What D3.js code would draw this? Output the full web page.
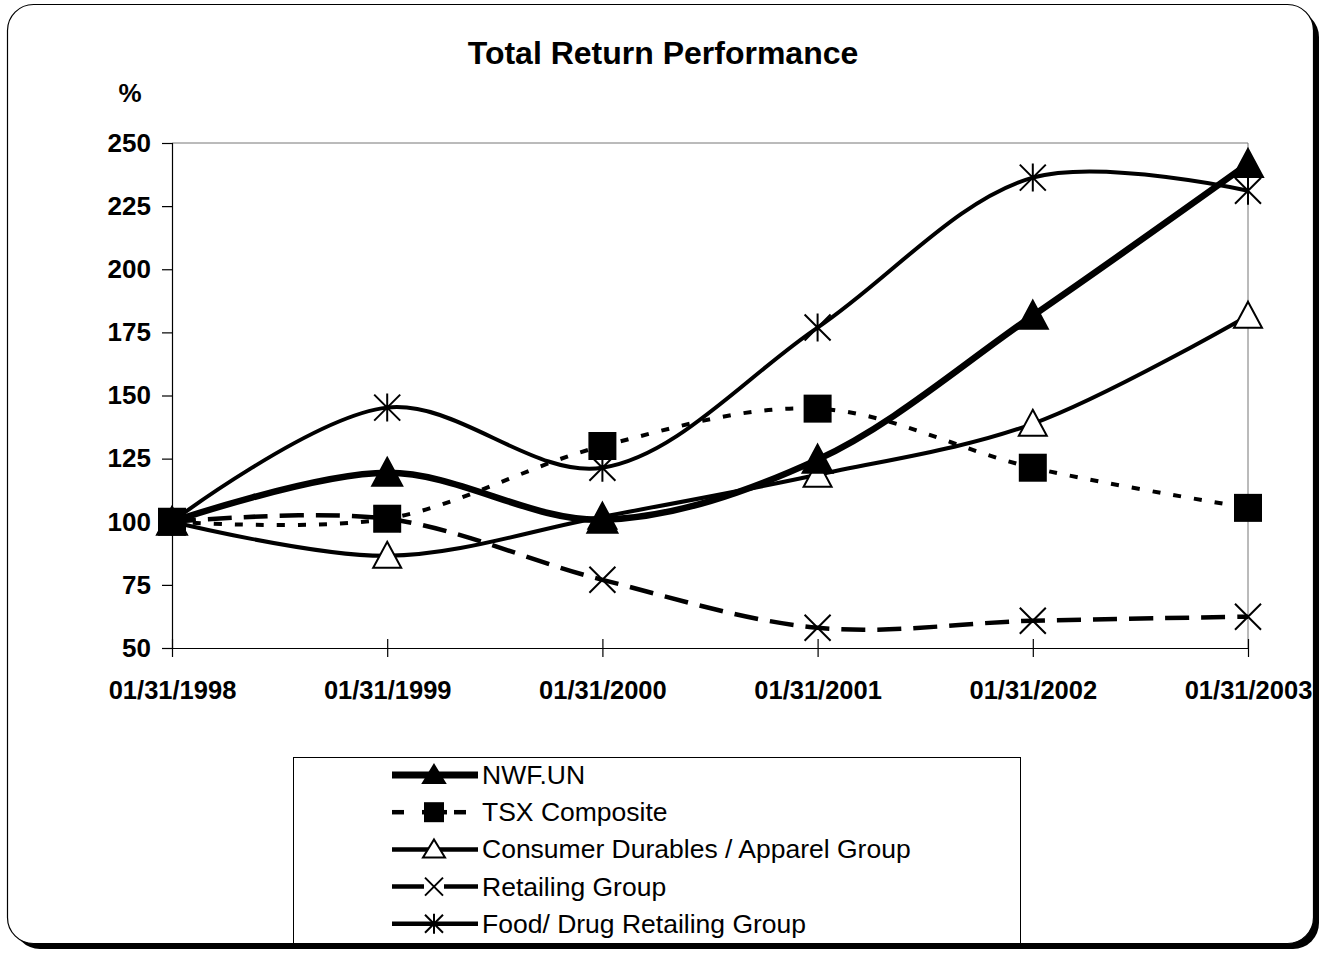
<!DOCTYPE html>
<html>
<head>
<meta charset="utf-8">
<script src="https://cdn.jsdelivr.net/npm/d3@7"></script>
<style>
  html, body { margin: 0; padding: 0; background: #fff; }
  svg { display: block; font-family: "Liberation Sans", Arial, sans-serif; }
</style>
</head>
<body>
<div id="chart"></div>
<script>
// data
const dates = ['01/31/1998', '01/31/1999', '01/31/2000', '01/31/2001', '01/31/2002', '01/31/2003'];
const yTicks = [50, 75, 100, 125, 150, 175, 200, 225, 250];
const seriesNames = ['NWF.UN', 'TSX Composite', 'Consumer Durables / Apparel Group', 'Retailing Group', 'Food/ Drug Retailing Group'];
const nwf      = [100, 119.4, 100.8, 124.6, 181.6, 241.7];
const tsx      = [100, 101.2, 130.0, 144.8, 121.4, 105.5];
const durables = [100, 86.5, 102.0, 118.6, 138.8, 181.6];
const retail   = [100, 101.2, 77.0, 58.0, 60.8, 62.4];
const foodDrug = [100, 145.2, 121.4, 176.9, 236.3, 231.1];

(function(){
  const W = 1325, H = 953;
  const font = '"Liberation Sans", Arial, sans-serif';
  const svg = d3.select('#chart').append('svg').attr('width', W).attr('height', H);

  // outer frame with shadow
  svg.append('rect').attr('x', 14).attr('y', 11).attr('width', 1305).attr('height', 938)
    .attr('rx', 26).attr('fill', '#000');
  svg.append('rect').attr('x', 7.5).attr('y', 4.5).attr('width', 1306).attr('height', 939)
    .attr('rx', 26).attr('fill', '#fff').attr('stroke', '#000').attr('stroke-width', 1.2);

  const x = d3.scalePoint().domain(dates).range([172, 1248]);
  const y = d3.scaleLinear().domain([50, 250]).range([648, 143]);

  // plot frame (top/right gray)
  svg.append('path').attr('d', `M172,143H1248V648`).attr('fill', 'none').attr('stroke', '#777').attr('stroke-width', 1);

  // y axis
  const yAxis = svg.append('g').attr('transform', 'translate(172,0)')
    .call(d3.axisLeft(y).tickValues(yTicks).tickSize(10).tickPadding(11));
  yAxis.select('.domain').attr('stroke', '#000').attr('stroke-width', 1.2);
  yAxis.selectAll('line').attr('stroke', '#000').attr('stroke-width', 1.2);
  yAxis.selectAll('text').attr('font-size', 26).attr('font-weight', 'bold')
    .attr('font-family', font).attr('fill', '#000');

  // x axis
  const xAxis = svg.append('g').attr('transform', 'translate(0,648)')
    .call(d3.axisBottom(x).tickSize(9).tickSizeOuter(0).tickPadding(24));
  xAxis.select('.domain').attr('stroke', '#000').attr('stroke-width', 1.2);
  xAxis.selectAll('.tick line').attr('stroke', '#000').attr('stroke-width', 1.2).attr('y1', -9);
  xAxis.selectAll('text').attr('font-size', 25.5).attr('font-weight', 'bold')
    .attr('font-family', font).attr('fill', '#000');

  // title and unit
  svg.append('text').attr('x', 663).attr('y', 64).attr('text-anchor', 'middle')
    .attr('font-size', 32).attr('font-weight', 'bold').text('Total Return Performance');
  svg.append('text').attr('x', 130).attr('y', 102).attr('text-anchor', 'middle')
    .attr('font-size', 26).attr('font-weight', 'bold').text('%');

  const line = d3.line().x((d, i) => x(dates[i])).y(d => y(d)).curve(d3.curveCatmullRom.alpha(0.5));

  // marker drawers
  function marker(g, type, cx, cy){
    const s = 13;
    if (type === 'triFilled' || type === 'triOpen') {
      const h = type === 'triFilled' ? 15 : 14;
      g.append('path').attr('d', `M${cx},${cy - h}L${cx + h},${cy + h - 2}L${cx - h},${cy + h - 2}Z`)
        .attr('fill', type === 'triFilled' ? '#000' : '#fff').attr('stroke', '#000').attr('stroke-width', 2);
    } else if (type === 'square') {
      g.append('rect').attr('x', cx - 14).attr('y', cy - 14).attr('width', 28).attr('height', 28).attr('fill', '#000');
    } else if (type === 'x') {
      g.append('path').attr('d', `M${cx - s},${cy - s}L${cx + s},${cy + s}M${cx - s},${cy + s}L${cx + s},${cy - s}`)
        .attr('stroke', '#000').attr('stroke-width', 2);
    } else if (type === 'star') {
      g.append('path').attr('d', `M${cx - s},${cy - s}L${cx + s},${cy + s}M${cx - s},${cy + s}L${cx + s},${cy - s}M${cx},${cy - s - 1}V${cy + s + 1}`)
        .attr('stroke', '#000').attr('stroke-width', 2);
    }
  }

  const series = [
    { name: seriesNames[0], values: nwf, width: 6.5, dash: null, mk: 'triFilled' },
    { name: seriesNames[1], values: tsx, width: 4, dash: '8,13', mk: 'square' },
    { name: seriesNames[2], values: durables, width: 4, dash: null, mk: 'triOpen' },
    { name: seriesNames[3], values: retail, width: 4.5, dash: '24,12', mk: 'x' },
    { name: seriesNames[4], values: foodDrug, width: 4, dash: null, mk: 'star' }
  ];

  // draw order: later series on top as in reference
  const drawOrder = [4, 3, 2, 1, 0];
  drawOrder.forEach(i => {
    const s = series[i];
    svg.append('path').datum(s.values).attr('d', line)
      .attr('fill', 'none').attr('stroke', '#000').attr('stroke-width', s.width)
      .attr('stroke-dasharray', s.dash);
  });
  drawOrder.forEach(i => {
    const s = series[i];
    const g = svg.append('g');
    s.values.forEach((v, j) => marker(g, s.mk, x(dates[j]), y(v)));
  });

  // legend
  const lg = svg.append('g');
  lg.append('rect').attr('x', 293.5).attr('y', 757.5).attr('width', 727).attr('height', 186)
    .attr('fill', '#fff').attr('stroke', '#000').attr('stroke-width', 1);
  series.forEach((s, i) => {
    const ly = 775 + i * 37.2;
    if (i === 1) {
      // "-  ■-" style sample
      [[392, 404], [454, 466]].forEach(([a, b]) => lg.append('line').attr('x1', a).attr('x2', b)
        .attr('y1', ly).attr('y2', ly).attr('stroke', '#000').attr('stroke-width', 4.5));
      lg.append('line').attr('x1', 422).attr('x2', 447).attr('y1', ly).attr('y2', ly)
        .attr('stroke', '#000').attr('stroke-width', 4.5);
    } else {
      lg.append('line').attr('x1', 392).attr('x2', 478).attr('y1', ly).attr('y2', ly)
        .attr('stroke', '#000').attr('stroke-width', i === 0 ? 7 : 4.5);
    }
    if (i === 3) {
      lg.append('rect').attr('x', 424).attr('y', ly - 8).attr('width', 20).attr('height', 16).attr('fill', '#fff');
    }
    const mg = lg.append('g');
    const cx = 434;
    if (s.mk === 'x' || s.mk === 'star') {
      const k = 9;
      mg.append('path').attr('d', s.mk === 'x'
        ? `M${cx - k},${ly - k}L${cx + k},${ly + k}M${cx - k},${ly + k}L${cx + k},${ly - k}`
        : `M${cx - k},${ly - k}L${cx + k},${ly + k}M${cx - k},${ly + k}L${cx + k},${ly - k}M${cx},${ly - k - 1}V${ly + k + 1}`)
        .attr('stroke', '#000').attr('stroke-width', 2);
    } else if (s.mk === 'square') {
      mg.append('rect').attr('x', cx - 10).attr('y', ly - 10).attr('width', 20).attr('height', 20).attr('fill', '#000');
    } else {
      mg.append('path').attr('d', `M${cx},${ly - 10}L${cx + 11},${ly + 8}L${cx - 11},${ly + 8}Z`)
        .attr('fill', s.mk === 'triFilled' ? '#000' : '#fff').attr('stroke', '#000').attr('stroke-width', 2);
    }
    lg.append('text').attr('x', 482).attr('y', ly + 9).attr('font-size', 26.5).text(s.name);
  });
})();
</script>
</body>
</html>
